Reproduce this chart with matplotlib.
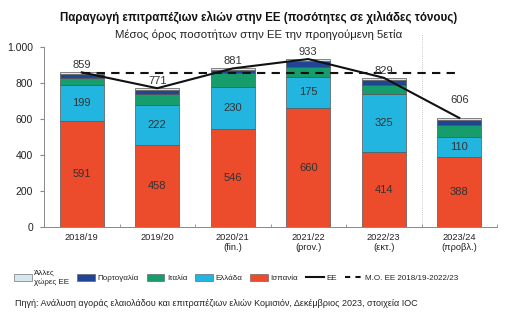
import matplotlib
matplotlib.use("Agg")
import matplotlib.pyplot as plt
import numpy as np
from matplotlib.patches import Patch
from matplotlib.lines import Line2D

plt.rcParams['font.family'] = ['Liberation Sans', 'DejaVu Sans']

categories = ["2018/19", "2019/20", "2020/21\n(fin.)", "2021/22\n(prov.)", "2022/23\n(εκτ.)", "2023/24\n(προβλ.)"]
spain = [591, 458, 546, 660, 414, 388]
greece = [199, 222, 230, 175, 325, 110]
italy = [36, 57, 78, 55, 50, 70]
portugal = [24, 25, 20, 33, 30, 28]
others = [9, 9, 7, 10, 10, 10]
eu_total = [859, 771, 881, 933, 829, 606]
eu_avg = 855

series = [
    ("Ισπανία", spain, "#EC4B2C"),
    ("Ελλάδα", greece, "#22B5DF"),
    ("Ιταλία", italy, "#179C6C"),
    ("Πορτογαλία", portugal, "#1F4594"),
    ("Άλλες\nχώρες ΕΕ", others, "#D6E7EF"),
]

fig = plt.figure(figsize=(5.2, 3.25), dpi=100)
ax = fig.add_axes([44/520, 1-227/325, (497-44)/520, (227-47)/325])

x = np.arange(len(categories))
bottom = np.zeros(len(categories))
w = 0.58
for name, vals, col in series:
    ax.bar(x, vals, w, bottom=bottom, color=col, edgecolor="#555555", linewidth=0.5, zorder=2)
    bottom += np.array(vals)

txtc = "#333333"
for i in range(len(x)):
    ax.text(x[i], spain[i]/2, f"{spain[i]}", ha="center", va="center", fontsize=8, color=txtc, zorder=5)
    ax.text(x[i], spain[i] + greece[i]/2, f"{greece[i]}", ha="center", va="center", fontsize=8, color=txtc, zorder=5)

ax.plot(x, eu_total, color="#111111", lw=1.5, zorder=4)
ax.plot([x[0], x[-1]], [eu_avg, eu_avg], color="#111111", lw=1.5, ls=(0, (4, 3)), zorder=4)

for i, v in enumerate(eu_total):
    off = 9 if i == len(eu_total)-1 else 1.5
    ax.annotate(f"{v}", (x[i], v), xytext=(0, off), textcoords="offset points",
                ha="center", va="bottom", fontsize=8, color=txtc, zorder=6)

ax.plot([4.5, 4.5], [0, 1075], color="#BBBBBB", lw=0.6, ls=(0, (1, 1.5)), clip_on=False, zorder=1)

ax.set_xlim(-0.474, 5.487)
ax.set_ylim(0, 1000)
ax.set_yticks([0, 200, 400, 600, 800, 1000])
ax.set_yticklabels(["0", "200", "400", "600", "800", "1.000"], fontsize=7.5, color="#222222")
ax.set_xticks(x)
ax.set_xticklabels(categories, fontsize=6.7, color="#222222")
ax.set_xticks(np.arange(-0.5, 5.6, 1), minor=True)
ax.tick_params(axis="x", which="major", length=0, pad=4)
ax.tick_params(axis="x", which="minor", length=2.5, direction="in", color="#888888")
ax.tick_params(axis="y", length=3, color="#888888", pad=5)
for s in ["top", "right"]:
    ax.spines[s].set_visible(False)
ax.spines["left"].set_color("#888888")
ax.spines["bottom"].set_color("#888888")
ax.spines["left"].set_linewidth(0.7)
ax.spines["bottom"].set_linewidth(0.7)

fig.text(0.497, 1-17/325, "Παραγωγή επιτραπέζιων ελιών στην ΕΕ (ποσότητες σε χιλιάδες τόνους)",
         ha="center", va="center", fontsize=8.3, fontweight="bold", color="#111111")
fig.text(0.497, 1-35/325, "Μέσος όρος ποσοτήτων στην ΕΕ την προηγούμενη 5ετία",
         ha="center", va="center", fontsize=8.2, color="#222222")

handles = [Patch(facecolor=series[4][2], edgecolor="#888888", linewidth=0.6),
           Patch(facecolor=series[3][2], edgecolor="#555555", linewidth=0.4),
           Patch(facecolor=series[2][2], edgecolor="#555555", linewidth=0.4),
           Patch(facecolor=series[1][2], edgecolor="#555555", linewidth=0.4),
           Patch(facecolor=series[0][2], edgecolor="#555555", linewidth=0.4),
           Line2D([], [], color="#111111", lw=1.5),
           Line2D([], [], color="#111111", lw=1.5, ls=(0, (2.5, 2.5)))]
labels = [series[4][0], series[3][0], series[2][0], series[1][0], series[0][0], "ΕΕ", "Μ.Ο. ΕΕ 2018/19-2022/23"]
leg = fig.legend(handles, labels, loc="upper left", bbox_to_anchor=(14/520, 1-270/325), ncol=7,
                 frameon=False, fontsize=5.8, handlelength=2.2, handleheight=0.8,
                 handletextpad=0.3, columnspacing=1.0, borderaxespad=0, borderpad=0)
for t in leg.get_texts():
    t.set_color("#222222")

fig.text(15/520, 1-303/325, "Πηγή: Ανάλυση αγοράς ελαιολάδου και επιτραπέζιων ελιών Κομισιόν, Δεκέμβριος 2023, στοιχεία IOC",
         ha="left", va="center", fontsize=6.5, color="#222222")

fig.savefig("out.png", dpi=100)
